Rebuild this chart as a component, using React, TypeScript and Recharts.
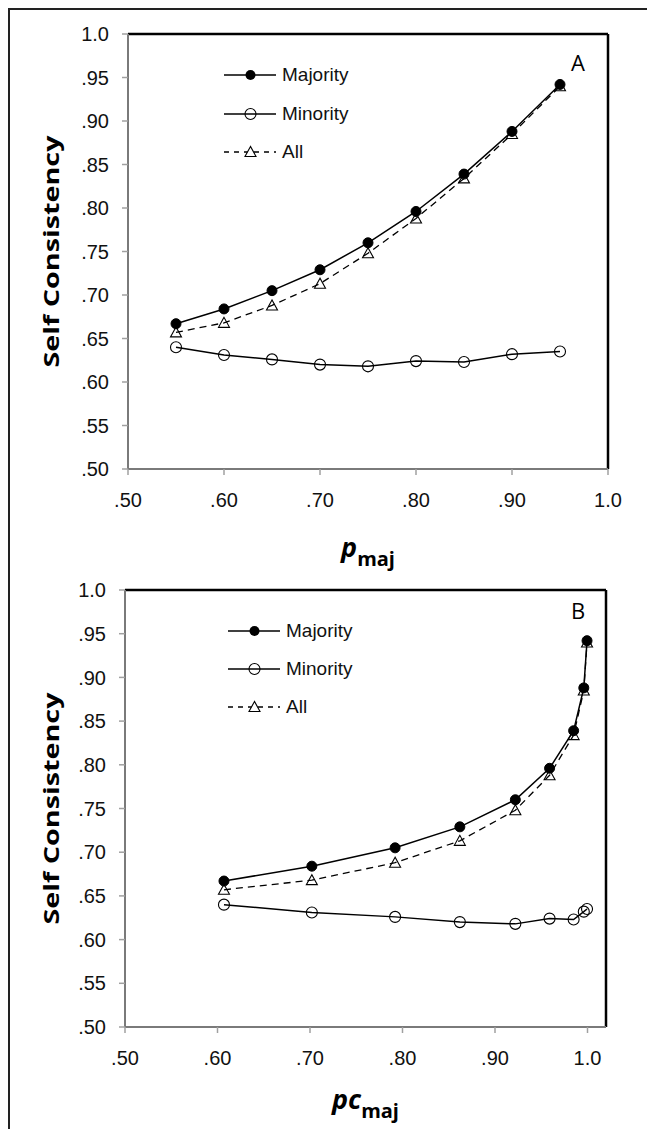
import React from 'react';
import { LineChart, Line, XAxis, YAxis, Legend, ReferenceLine, Label } from 'recharts';

// x positions
const pMaj = [0.55, 0.6, 0.65, 0.7, 0.75, 0.8, 0.85, 0.9, 0.95];
const pcMaj = [0.607, 0.702, 0.792, 0.862, 0.922, 0.959, 0.985, 0.996, 0.9995];

// self consistency values
const majority = [0.667, 0.684, 0.705, 0.729, 0.76, 0.796, 0.839, 0.888, 0.942];
const minority = [0.64, 0.631, 0.626, 0.62, 0.618, 0.624, 0.623, 0.632, 0.635];
const all = [0.657, 0.668, 0.688, 0.713, 0.748, 0.788, 0.834, 0.885, 0.94];

const yTicks = [0.5, 0.55, 0.6, 0.65, 0.7, 0.75, 0.8, 0.85, 0.9, 0.95, 1.0];
const xTicks = [0.5, 0.6, 0.7, 0.8, 0.9, 1.0];

const fmt = (v: number) => (v >= 0.999 ? '1.0' : '.' + String(Math.round(v * 100)).padStart(2, '0'));

const rows = (xs: number[]) =>
    xs.map((x, i) => ({ x, majority: majority[i], minority: minority[i], all: all[i] }));

const tickFont = { fill: '#111', fontSize: 20, fontFamily: '"Liberation Sans", Arial, sans-serif' };

const TriangleDot = (props: any) => {
    const { cx, cy, index } = props;
    if (cx == null || cy == null) return <g key={`t-${index}`} />;
    return (
        <polygon
            key={`t-${index}`}
            points={`${cx},${cy - 5.5} ${cx - 5.5},${cy + 4.5} ${cx + 5.5},${cy + 4.5}`}
            fill="none"
            stroke="#000"
            strokeWidth={1.1}
        />
    );
};

const legendItems = [
    { name: 'Majority', kind: 'filled' },
    { name: 'Minority', kind: 'open' },
    { name: 'All', kind: 'tri' },
];

const LegendBox = ({ rowH }: { rowH: number }) => (
    <div>
        {legendItems.map((it) => (
            <div key={it.name} style={{ height: rowH, display: 'flex', alignItems: 'center' }}>
                <svg width={58} height={20} style={{ display: 'block' }}>
                    <line
                        x1={0}
                        x2={52}
                        y1={10}
                        y2={10}
                        stroke="#000"
                        strokeWidth={1.3}
                        strokeDasharray={it.kind === 'tri' ? '5 5' : undefined}
                    />
                    {it.kind === 'filled' && <circle cx={26.5} cy={10} r={5} fill="#000" />}
                    {it.kind === 'open' && <circle cx={26.5} cy={10} r={5.5} fill="none" stroke="#000" strokeWidth={1.1} />}
                    {it.kind === 'tri' && (
                        <polygon points="26.5,4.5 21,14.5 32,14.5" fill="#fff" stroke="#000" strokeWidth={1.1} />
                    )}
                </svg>
                <span style={{ fontSize: 19, fontFamily: '"Liberation Sans", Arial, sans-serif', color: '#111' }}>
                    {it.name}
                </span>
            </div>
        ))}
    </div>
);

interface PanelProps {
    xs: number[];
    xMax: number;
    height: number;
    margin: { top: number; right: number; bottom: number; left: number };
    legendPos: { left: number; top: number };
    rowH: number;
    xTitle: string;
    titleDy: number;
}

function Panel({ xs, xMax, height, margin, legendPos, rowH, xTitle, titleDy }: PanelProps) {
    const data = rows(xs);
    return (
        <LineChart width={647} height={height} data={data} margin={margin}>
            <XAxis
                type="number"
                dataKey="x"
                domain={[0.5, xMax]}
                ticks={xTicks}
                tickFormatter={fmt}
                allowDataOverflow
                height={40}
                tickSize={6}
                tickMargin={18}
                tick={tickFont}
                tickLine={{ stroke: '#a0a0a0', strokeWidth: 1.5 }}
                axisLine={{ stroke: '#7a7a7a', strokeWidth: 2 }}
            >
                <Label
                    content={(p: any) => {
                        const vb = p.viewBox || {};
                        return (
                            <text
                                x={vb.x + vb.width / 2}
                                y={vb.y + titleDy}
                                textAnchor="middle"
                                fill="#000"
                                fontFamily='"Open Sans", sans-serif'
                                fontWeight="bold"
                            >
                                <tspan fontStyle="italic" fontSize={27}>{xTitle}</tspan>
                                <tspan fontSize={20} dy={9}>maj</tspan>
                            </text>
                        );
                    }}
                />
            </XAxis>
            <YAxis
                type="number"
                domain={[0.5, 1.0]}
                ticks={yTicks}
                tickFormatter={fmt}
                allowDataOverflow
                width={60}
                tickSize={6}
                tickMargin={13}
                tick={tickFont}
                tickLine={{ stroke: '#a0a0a0', strokeWidth: 1.5 }}
                axisLine={{ stroke: '#7a7a7a', strokeWidth: 2 }}
            >
                <Label
                    content={(p: any) => {
                        const vb = p.viewBox || {};
                        const cy = vb.y + vb.height / 2;
                        return (
                            <text
                                x={50}
                                y={cy}
                                transform={`rotate(-90 50 ${cy})`}
                                textAnchor="middle"
                                dominantBaseline="central"
                                fill="#000"
                                fontFamily='"Open Sans", sans-serif'
                                fontWeight="bold"
                                fontSize={22}
                                textLength={232}
                                lengthAdjust="spacingAndGlyphs"
                            >
                                Self Consistency
                            </text>
                        );
                    }}
                />
            </YAxis>
            <ReferenceLine y={1.0} stroke="#000" strokeWidth={2.5} />
            <ReferenceLine x={xMax} stroke="#000" strokeWidth={2.5} />
            <Legend
                layout="vertical"
                align="center"
                verticalAlign="middle"
                wrapperStyle={{ position: 'absolute', left: legendPos.left, top: legendPos.top, width: 160 }}
                content={() => <LegendBox rowH={rowH} />}
            />
            <Line
                dataKey="all"
                name="All"
                stroke="#000"
                strokeWidth={1.3}
                strokeDasharray="7 5"
                dot={TriangleDot}
                activeDot={false}
                isAnimationActive={false}
            />
            <Line
                dataKey="minority"
                name="Minority"
                stroke="#000"
                strokeWidth={1.5}
                dot={{ r: 5.5, fill: 'none', stroke: '#000', strokeWidth: 1.1 }}
                activeDot={false}
                isAnimationActive={false}
            />
            <Line
                dataKey="majority"
                name="Majority"
                stroke="#000"
                strokeWidth={1.5}
                dot={{ r: 5, fill: '#000', stroke: '#000', strokeWidth: 1 }}
                activeDot={false}
                isAnimationActive={false}
            />
        </LineChart>
    );
}

const letterStyle: React.CSSProperties = {
    position: 'absolute',
    width: 30,
    textAlign: 'center',
    fontFamily: '"Open Sans", sans-serif',
    fontSize: 22,
    lineHeight: '22px',
    color: '#000',
};

export default function App() {
    return (
        <div
            style={{
                position: 'absolute',
                left: 0,
                top: 0,
                width: 647,
                height: 1129,
                overflow: 'hidden',
                background: '#fff',
            }}
        >
            <div
                style={{
                    position: 'absolute',
                    left: 8,
                    top: 8,
                    width: 660,
                    height: 1140,
                    border: '2px solid #222',
                    boxSizing: 'border-box',
                }}
            />
            <div style={{ position: 'absolute', left: 0, top: 568 }}>
                <Panel
                    xs={pcMaj}
                    xMax={1.02}
                    height={561}
                    margin={{ top: 22, right: 41, bottom: 62, left: 65 }}
                    legendPos={{ left: 228, top: 44 }}
                    rowH={38}
                    xTitle="pc"
                    titleDy={82}
                />
            </div>
            <div style={{ position: 'absolute', left: 0, top: 0 }}>
                <Panel
                    xs={pMaj}
                    xMax={1.0}
                    height={582}
                    margin={{ top: 34, right: 39, bottom: 73, left: 68 }}
                    legendPos={{ left: 224, top: 56 }}
                    rowH={38.5}
                    xTitle="p"
                    titleDy={88}
                />
            </div>
            <div style={{ ...letterStyle, left: 563, top: 51 }}>A</div>
            <div style={{ ...letterStyle, left: 563, top: 599 }}>B</div>
        </div>
    );
}
